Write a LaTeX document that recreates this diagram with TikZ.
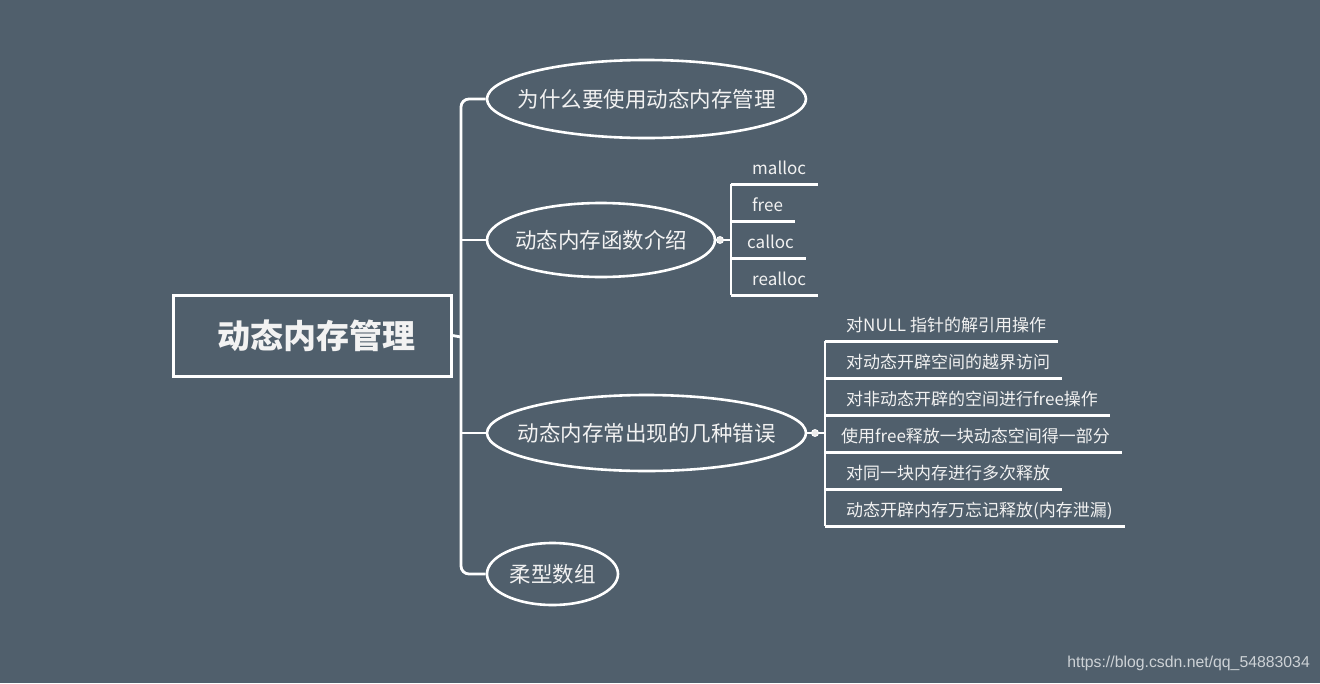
\documentclass[tikz,border=0pt]{standalone}
\usepackage{fontspec}
\setmainfont{Noto Sans CJK SC}
\newfontfamily\wmfont{Liberation Sans}
\usetikzlibrary{shapes.geometric}
\definecolor{bg}{RGB}{80,95,108}
\definecolor{txt}{RGB}{242,242,242}
\definecolor{wm}{RGB}{205,210,214}
\newcommand{\zw}[1]{\makebox[0pt]{#1}}
\begin{document}
\begin{tikzpicture}[x=1pt,y=-1pt,
  ln/.style={draw=white,line width=2.8pt},
  rootbox/.style={draw=white,line width=3pt,minimum width=278pt,minimum height=81pt,inner sep=0pt,
    text=txt,font=\fontsize{33}{36}\selectfont\bfseries},
  topic/.style={ellipse,draw=white,line width=2.6pt,inner sep=0pt,text=txt,font=\fontsize{21.5}{24}\selectfont},
  leaf/.style={anchor=west,text=txt,font=\fontsize{17}{20}\selectfont,inner xsep=12pt,inner ysep=8.5pt,
    text height=14pt,text depth=1pt},
  dot/.style={circle,fill=white!85!gray,draw=white,line width=0.8pt,minimum size=7pt,inner sep=0pt}]
\fill[bg] (0,0) rectangle (1320,683);
\useasboundingbox (0,0) rectangle (1320,683);

\node[rootbox] (root) at (312,335.5) {\hspace*{8pt}动态内存管理};
\coordinate (trunk) at (461,337);

\node[topic,minimum width=319pt,minimum height=78pt] (e1) at (646.5,99) {\zw{为什么要使用动态内存管理}};
\node[topic,minimum width=228pt,minimum height=74pt] (e2) at (601,240) {\zw{动态内存函数介绍}};
\node[topic,minimum width=319pt,minimum height=76pt] (e3) at (646.5,433) {\zw{动态内存常出现的几种错误}};
\node[topic,minimum width=131pt,minimum height=62pt] (e4) at (552.5,574) {\zw{柔型数组}};

\draw[ln] (root.east) -- (trunk);
\draw[ln,rounded corners=8pt] (e1.west) -| (trunk) |- (e4.west);
\draw[ln] (trunk |- e2.west) -- (e2.west);
\draw[ln] (trunk |- e3.west) -- (e3.west);

% functions
\coordinate (b2) at (731,240);
\node[leaf] (l1) at (740,168) {malloc};
\node[leaf] (l2) at (740,205) {free};
\node[leaf] (l3) at (735,242) {calloc};
\node[leaf] (l4) at (740,279) {realloc};
\draw[ln] (e2.east) -- (b2);
\draw[ln] (b2 |- l1.south) -- (b2 |- l4.south);
\foreach \n in {l1,l2,l3,l4} \draw[ln] (b2 |- \n.south) -- (\n.south east);
\node[dot] (d2) at (720,240) {};

% errors
\coordinate (b3) at (825,433);
\node[leaf] (r1) at (834,325) {对NULL 指针的解引用操作};
\node[leaf] (r2) at (834,362) {对动态开辟空间的越界访问};
\node[leaf] (r3) at (834,399) {对非动态开辟的空间进行free操作};
\node[leaf] (r4) at (829,436) {使用free释放一块动态空间得一部分};
\node[leaf] (r5) at (834,473) {对同一块内存进行多次释放};
\node[leaf] (r6) at (834,510) {动态开辟内存万忘记释放(内存泄漏)};
\draw[ln] (e3.east) -- (b3);
\draw[ln] (b3 |- r1.south) -- (b3 |- r6.south);
\foreach \n in {r1,r2,r3,r4,r5,r6} \draw[ln] (b3 |- \n.south) -- (\n.south east);
\node[dot] (d3) at (815,433) {};

\node[anchor=east,text=wm,font=\wmfont\fontsize{15.8}{18}\selectfont,inner sep=0pt] (wmk) at (1310,663) {https://blog.csdn.net/qq\_54883034};
\end{tikzpicture}
\end{document}
